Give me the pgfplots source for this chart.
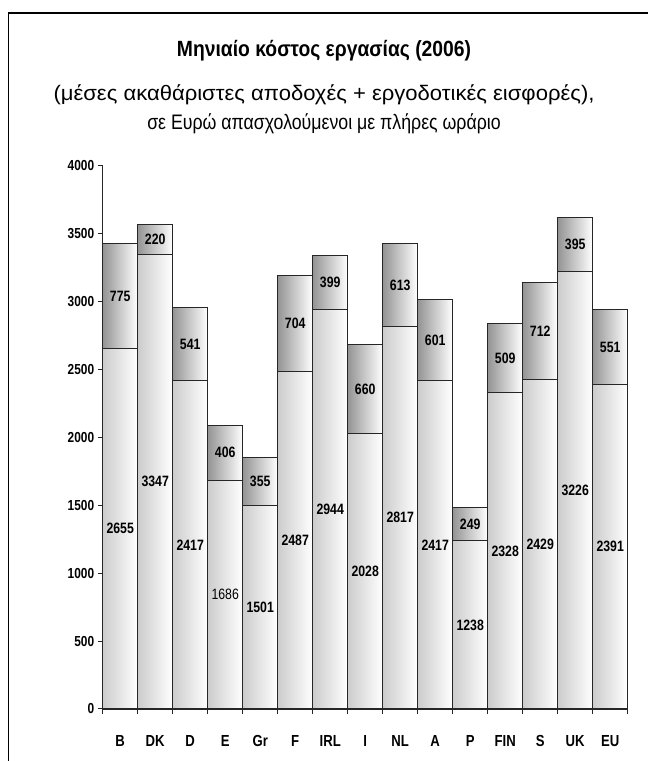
\documentclass[border=0pt]{standalone}
\usepackage{pgfplots}
\pgfplotsset{compat=1.18}
\usepackage{pgfplotstable}
\usepackage{fontspec}
\setmainfont{Liberation Sans}
\newfontfamily\cf[FakeStretch=0.82]{Liberation Sans}
\pgfplotstableread{
x low up
0 2655 775
1 3347 220
2 2417 541
3 1686 406
4 1501 355
5 2487 704
6 2944 399
7 2028 660
8 2817 613
9 2417 601
10 1238 249
11 2328 509
12 2429 712
13 3226 395
14 2391 551
}\data
\begin{document}
\begin{tikzpicture}
\path[use as bounding box] (-102.7bp,-52bp) rectangle (545.3bp,709bp);
\draw[line width=1.6bp] (-94.2bp,-52bp) -- (-94.2bp,696bp) -- (545.3bp,696bp);
\node[font=\cf\bfseries\fontsize{22bp}{26bp}\selectfont, anchor=base] at (221.3bp,652bp) {\scalebox{1.07}[1]{Μηνιαίο κόστος εργασίας (2006)}};
\node[font=\cf\fontsize{21bp}{25bp}\selectfont, anchor=base] at (221.3bp,608bp) {\scalebox{1.28}[1]{(μέσες ακαθάριστες αποδοχές + εργοδοτικές εισφορές),}};
\node[font=\cf\fontsize{21bp}{25bp}\selectfont, anchor=base] at (221.3bp,579bp) {\scalebox{1.03}[1]{σε Ευρώ απασχολούμενοι με πλήρες ωράριο}};
\begin{axis}[
  scale only axis, width=525bp, height=543bp,
  xmin=-0.5, xmax=14.5, ymin=0, ymax=4000,
  axis x line=bottom, axis y line=left,
  axis line style={-, line width=1.2bp, black!85},
  xtick={0,...,14}, xticklabels={B,DK,D,E,Gr,F,IRL,I,NL,A,P,FIN,S,UK,EU},
  major x tick style={draw=none},
  minor xtick={-0.5,0.5,...,14.5}, minor tick length=5bp,
  ytick={0,500,...,4000}, major tick length=5bp, tick align=outside,
  tick style={black!85, line width=1bp},
  xticklabel style={font=\cf\bfseries\fontsize{16bp}{18bp}\selectfont, anchor=north, yshift=-18bp},
  yticklabel style={font=\cf\bfseries\fontsize{14.5bp}{16bp}\selectfont},
  /pgf/number format/assume math mode=true, /pgf/number format/1000 sep={},
  clip=false]
\pgfplotsinvokeforeach{0,...,14}{
\addplot[ybar, bar width=1, bar shift=0pt, draw=black!85, line width=1bp, left color=black!42, right color=white, restrict x to domain=#1:#1] table[x=x, y expr=\thisrow{low}+\thisrow{up}] {\data};
\addplot[ybar, bar width=1, bar shift=0pt, draw=black!85, line width=1bp, left color=black!20, right color=white, restrict x to domain=#1:#1] table[x=x, y=low] {\data};
}
\addplot[draw=none, nodes near coords, point meta=explicit symbolic,
  every node near coord/.append style={anchor=center, font=\cf\bfseries\fontsize{15bp}{17bp}\selectfont},
  skip coords between index={3}{4}] table[x=x, y expr=\thisrow{low}/2, meta=low] {\data};
\addplot[draw=none, nodes near coords, point meta=explicit symbolic,
  every node near coord/.append style={anchor=center, font=\cf\fontsize{15bp}{17bp}\selectfont}]
  coordinates {(3,843) [1686]};
\addplot[draw=none, nodes near coords, point meta=explicit symbolic,
  every node near coord/.append style={anchor=center, font=\cf\bfseries\fontsize{15bp}{17bp}\selectfont}] table[x=x, y expr=\thisrow{low}+\thisrow{up}/2, meta=up] {\data};
\end{axis}
\end{tikzpicture}
\end{document}
